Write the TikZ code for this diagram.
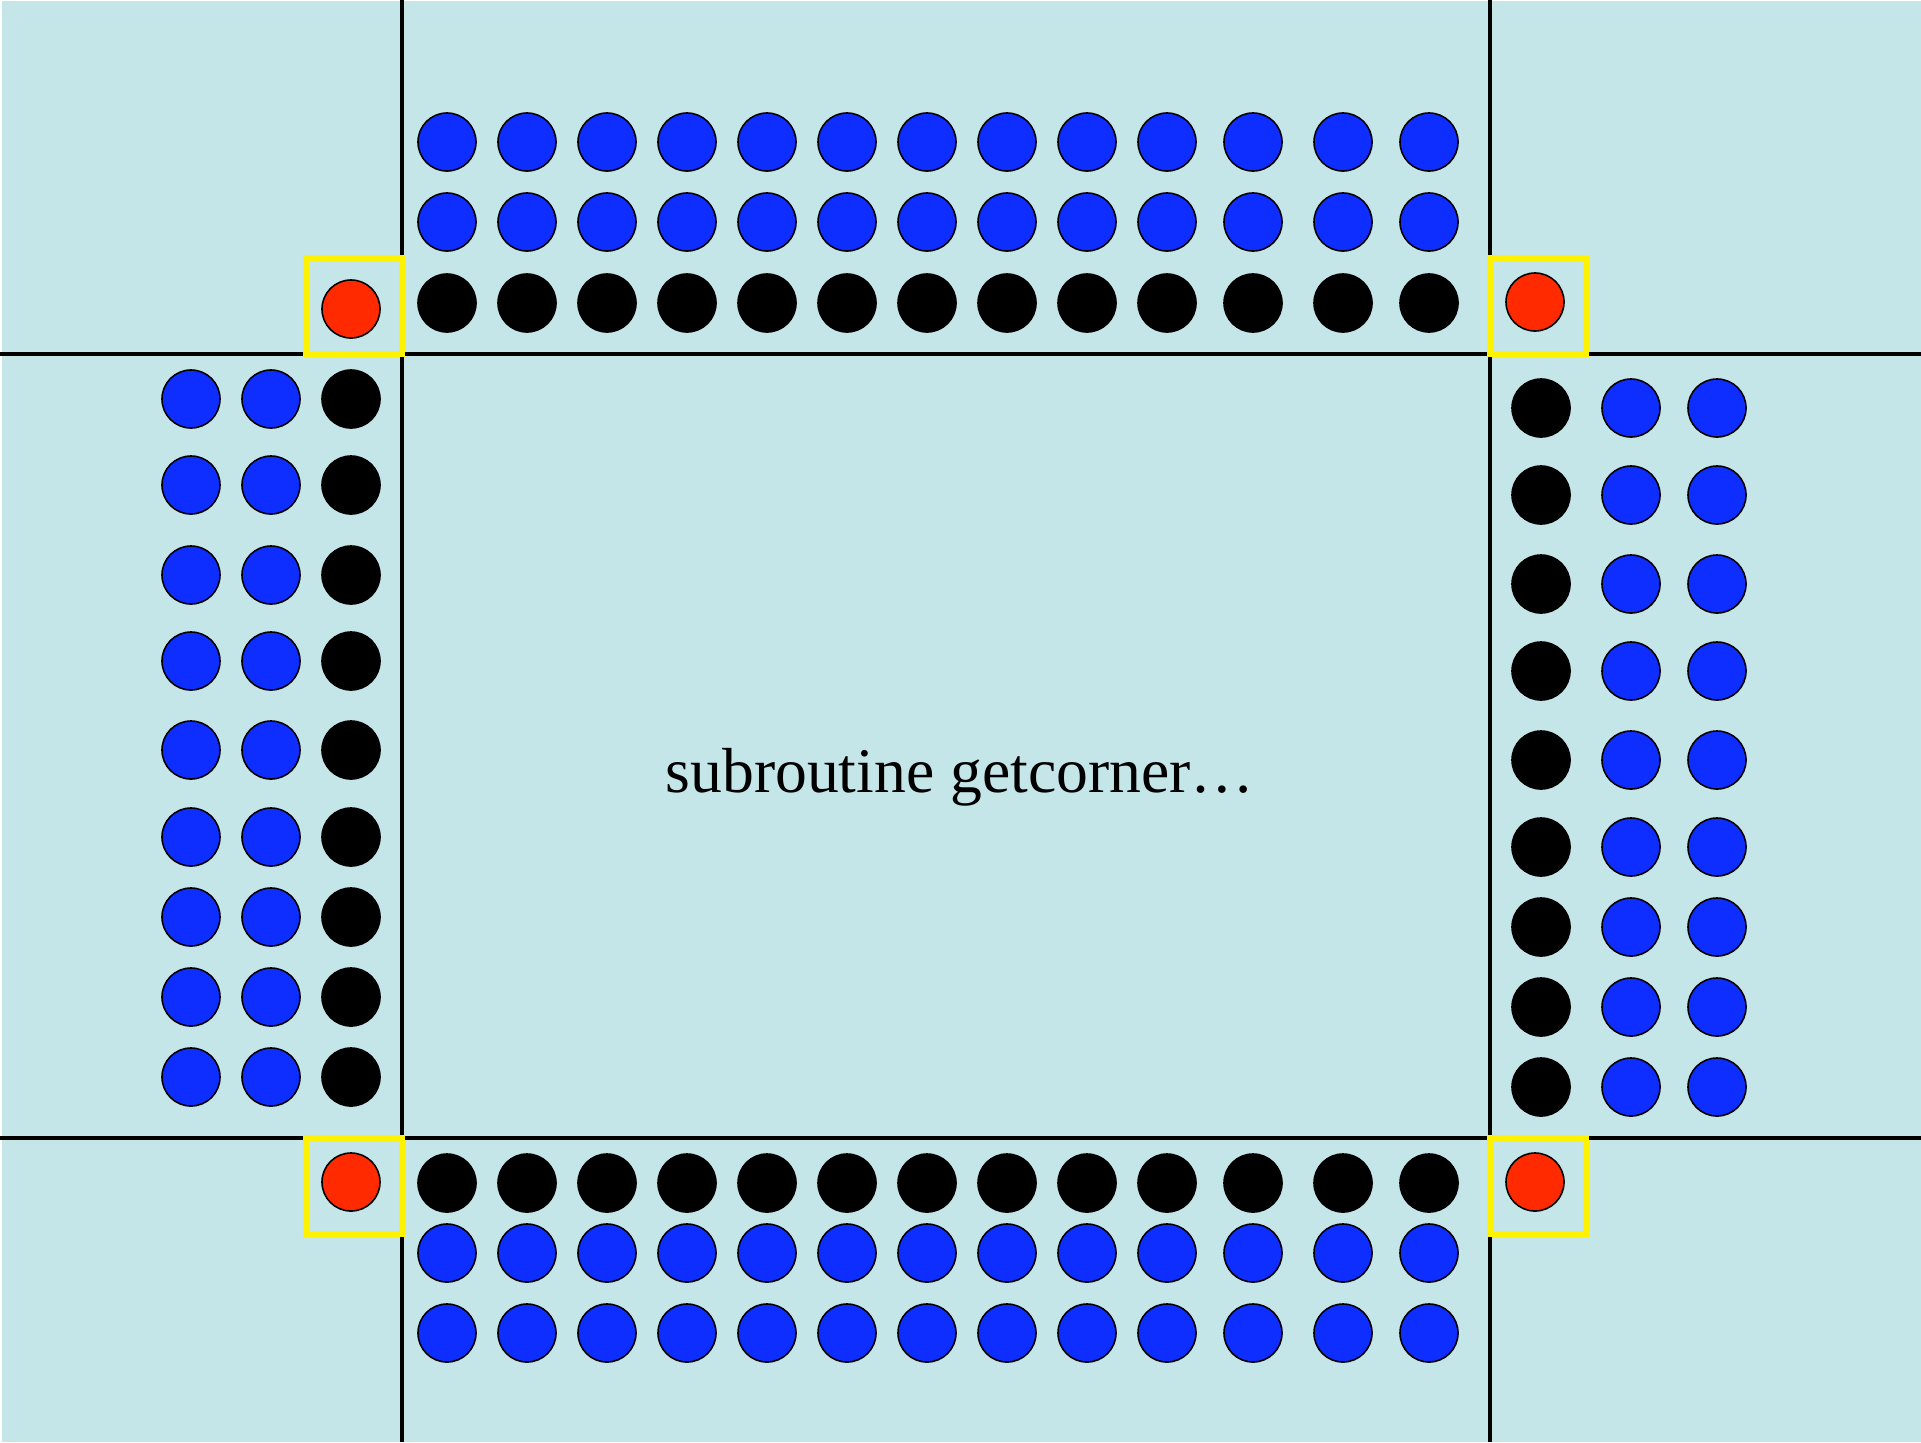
\documentclass[tikz,border=0pt]{standalone}
\usepackage{fontspec}
\setmainfont{Liberation Serif}
\usetikzlibrary{positioning}

\definecolor{bgcol}{RGB}{196,230,232}
\definecolor{padblue}{RGB}{13,46,255}
\definecolor{padred}{RGB}{255,42,0}

\begin{document}
\begin{tikzpicture}[
    x=0.01cm, y=-0.01cm,
    dot/.style={circle, minimum size=0.58cm, inner sep=0pt, draw=black, line width=0.45pt},
    bluedot/.style={dot, fill=padblue},
    blackdot/.style={dot, fill=black},
    reddot/.style={dot, fill=padred},
    cornerbox/.style={draw=yellow, line width=1.7pt, minimum size=0.96cm, inner sep=0pt},
    cut/.style={line width=1.2pt},
    label/.style={font=\fontsize{18.1}{21}\selectfont, anchor=base}
]
\useasboundingbox (0,0) rectangle (1921,1442);
\fill[bgcol] (2,1) rectangle (1921,1442);

% Cutting lines
\draw[cut] (402,0) -- (402,1442);
\draw[cut] (1490,0) -- (1490,1442);
\draw[cut] (0,354) -- (1921,354);
\draw[cut] (0,1138) -- (1921,1138);

% Top and bottom rows
\foreach \x [count=\i] in {447,527,607,687,767,847,927,1007,1087,1167,1253,1343,1429} {
    \node[bluedot]  (top1-\i) at (\x,142)  {};
    \node[bluedot]  (top2-\i) at (\x,222)  {};
    \node[blackdot] (top3-\i) at (\x,303)  {};
    \node[blackdot] (bot1-\i) at (\x,1183) {};
    \node[bluedot]  (bot2-\i) at (\x,1253) {};
    \node[bluedot]  (bot3-\i) at (\x,1333) {};
}

% Left columns
\foreach \y [count=\i] in {399,485,575,661,750,837,917,997,1077} {
    \node[bluedot]  (left1-\i) at (191,\y) {};
    \node[bluedot]  (left2-\i) at (271,\y) {};
    \node[blackdot] (left3-\i) at (351,\y) {};
}

% Right columns
\foreach \y [count=\i] in {408,495,584,671,760,847,927,1007,1087} {
    \node[blackdot] (right1-\i) at (1541,\y) {};
    \node[bluedot]  (right2-\i) at (1631,\y) {};
    \node[bluedot]  (right3-\i) at (1717,\y) {};
}

% Corners
\node[cornerbox] (boxnw) at (354,306)   {};
\node[cornerbox] (boxne) at (1538,306)  {};
\node[cornerbox] (boxsw) at (354,1186)  {};
\node[cornerbox] (boxse) at (1538,1186) {};
\node[reddot] (cornw) at (351,309)   {};
\node[reddot] (corne) at (1535,302)  {};
\node[reddot] (corsw) at (351,1182)  {};
\node[reddot] (corse) at (1535,1182) {};

\node[label] (title) at (960,792) {subroutine getcorner…};

\end{tikzpicture}
\end{document}
